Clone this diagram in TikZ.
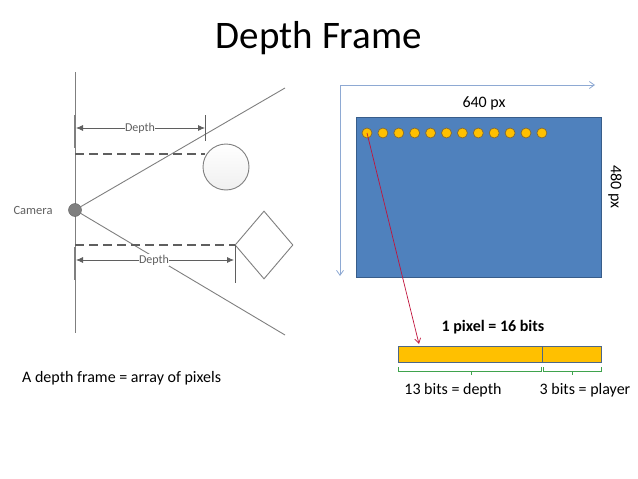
\documentclass[tikz,border=0pt]{standalone}
\usepackage{fontspec}
\setmainfont{Carlito}
\usetikzlibrary{arrows.meta,shapes.geometric,calc}
\definecolor{linegray}{HTML}{7F7F7F}
\definecolor{dashgray}{HTML}{5F5F5F}
\definecolor{axisblue}{HTML}{8EA9D3}
\definecolor{framefill}{HTML}{4F81BD}
\definecolor{frameedge}{HTML}{385D8A}
\definecolor{dotfill}{HTML}{FFC000}
\definecolor{dotedge}{HTML}{7F6A3A}
\definecolor{bracegreen}{HTML}{3FA34D}
\definecolor{redline}{HTML}{C0143C}
\tikzset{
  gline/.style={draw=linegray, line width=0.9pt},
  dline/.style={draw=dashgray, line width=1.6pt, dash pattern=on 9pt off 5pt},
  dimarrow/.style={draw=dashgray, line width=0.8pt, {Latex[length=7pt,width=6pt]}-{Latex[length=7pt,width=6pt]}},
  dimlabel/.style={font=\fontsize{12}{13}\selectfont, text=dashgray, fill=white, inner sep=0.5pt},
  pixdot/.style={circle, draw=dotedge, fill=dotfill, line width=0.7pt, minimum size=10pt, inner sep=0pt},
  axis/.style={draw=axisblue, line width=0.8pt, -{Straight Barb[length=5pt,width=7pt]}},
  gbrace/.style={draw=bracegreen, line width=0.7pt},
  lbl/.style={font=\fontsize{16}{18}\selectfont, inner sep=0pt}
}
\begin{document}
\begin{tikzpicture}[x=1pt,y=-1pt]
\useasboundingbox (0,0) rectangle (638,479);
% title
\node[font=\fontsize{39}{42}\selectfont, inner sep=0pt] (title) at (319,38) {Depth Frame};

% ---------- left diagram ----------
\coordinate (vtop) at (75,72);
\coordinate (vbot) at (75,333);
\draw[gline] (vtop) -- (vbot);
\draw[draw=linegray, line width=1.6pt] (75,115) -- (75,148);
\draw[draw=linegray, line width=1.6pt] (75,247) -- (75,280);
\coordinate (rayup) at (285,88);
\coordinate (raydn) at (285,335);
\node[circle, draw=dashgray, fill=linegray, minimum size=13pt, inner sep=0pt] (cam) at (75,210) {};
\draw[gline] (cam.center) -- (rayup);
\draw[gline] (cam.center) -- (raydn);
\node[font=\fontsize{12.5}{14}\selectfont, text=dashgray, inner sep=0pt] (camlbl) at (33,210) {Camera};
% circle object
\node[circle, draw=linegray, line width=0.9pt, top color=white, bottom color=gray!12, minimum size=46pt, inner sep=0pt] (ball) at (226,167) {};
% diamond object
\node[diamond, draw=linegray, line width=0.9pt, fill=white, minimum width=58pt, minimum height=68pt, inner sep=0pt] (dia) at (264,245) {};
% upper depth
\coordinate (ud0) at (75,154);
\coordinate (ud1) at (205,154);
\draw[dline] (ud0) -- (ud1);
\coordinate (ut0) at (205,115);
\coordinate (ut1) at (205,141);
\draw[draw=dashgray, line width=0.8pt] (ut0) -- (ut1);
\coordinate (ua0) at (76,128);
\coordinate (ua1) at (205,128);
\draw[dimarrow] (ua0) -- (ua1);
\node[dimlabel] (ulbl) at (140,128) {Depth};
% lower depth
\coordinate (ld0) at (75,245);
\coordinate (ld1) at (dia.west);
\draw[dline] (ld0) -- (ld1);
\coordinate (lt0) at (235,245);
\coordinate (lt1) at (235,283);
\draw[draw=dashgray, line width=0.8pt] (lt0) -- (lt1);
\coordinate (la0) at (76,260);
\coordinate (la1) at (234,260);
\draw[dimarrow] (la0) -- (la1);
\node[dimlabel] (llbl) at (154,260) {Depth};

\node[lbl, anchor=west] (caption) at (22,378) {A depth frame = array of pixels};

% ---------- right diagram ----------
\coordinate (corner) at (340,85);
\coordinate (xend) at (595,85);
\coordinate (yend) at (340,276);
\draw[axis] (corner) -- (xend);
\draw[axis] (corner) -- (yend);
\node[lbl] (w) at (484,103) {640 px};
\node[lbl, rotate=-90] (h) at (615,187) {480 px};
\path[fill=framefill, draw=frameedge, line width=0.8pt] (356,117) rectangle (601,277);
\node[inner sep=0pt, minimum width=245pt, minimum height=160pt] (frame) at (478.5,197) {};
\foreach \i in {0,...,11}{
  \node[pixdot] (p\i) at ({367+15.9*\i},133) {};
}
% bit bar
\node[draw=frameedge!70!gray, fill=dotfill, line width=0.8pt, minimum width=203pt, minimum height=16pt, inner sep=0pt] (bar) at (499.5,354) {};
\coordinate (divt) at (542,346);
\coordinate (divb) at (542,362);
\draw[draw=frameedge!70!gray, line width=0.6pt] (divt) -- (divb);
\node[lbl, font=\bfseries\fontsize{16}{18}\selectfont] (bits) at (493,327) {1 pixel = 16 bits};
\coordinate (tip) at (419,344);
\draw[draw=redline, line width=0.7pt, -{Straight Barb[length=5pt,width=6pt]}] (p0.center) -- (tip);
% braces
\draw[gbrace] (398,367) -- (398,371) -- (541,371) -- (541,367);
\draw[gbrace] (471,371) -- (471,375);
\draw[gbrace] (543,367) -- (543,371) -- (601,371) -- (601,367);
\draw[gbrace] (572,371) -- (572,375);
\node[lbl] (b13) at (453,390) {13 bits = depth};
\node[lbl] (b3) at (585,390) {3 bits = player};
\end{tikzpicture}
\end{document}
